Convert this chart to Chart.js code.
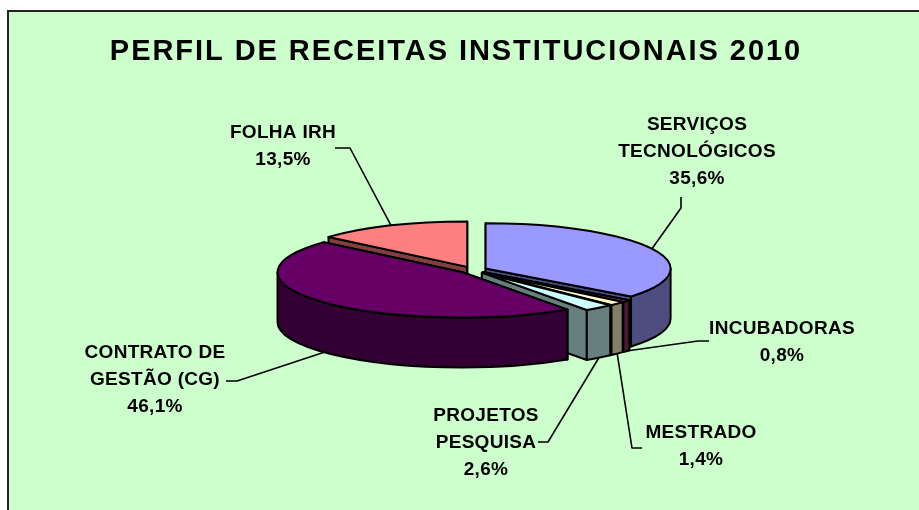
<!DOCTYPE html>
<html><head><meta charset="utf-8">
<style>html,body{margin:0;padding:0;background:#fff}#c{display:block}</style>
<script src="https://cdn.jsdelivr.net/npm/chart.js@4"></script>
</head><body><div style="width:919px;height:510px"><canvas id="c" width="919" height="510"></canvas></div>
<script>
const titleText = 'PERFIL DE RECEITAS INSTITUCIONAIS 2010';
const categories = ['SERVIÇOS TECNOLÓGICOS','INCUBADORAS','MESTRADO','PROJETOS PESQUISA','CONTRATO DE GESTÃO (CG)','FOLHA IRH'];
const values = [35.6,0.8,1.4,2.6,46.1,13.5];
const percentLabels = ['35,6%','0,8%','1,4%','2,6%','46,1%','13,5%'];
const labelLines = [['SERVIÇOS','TECNOLÓGICOS'],['INCUBADORAS'],['MESTRADO'],['PROJETOS','PESQUISA'],['CONTRATO DE','GESTÃO (CG)'],['FOLHA IRH']];
const topColors = ['#9999FF','#993366','#FFFFCC','#CCFFFF','#660066','#FF8080'];
const wallColors = ['#4D4D80','#4D1A33','#808066','#668080','#330033','#804040'];

// layout of the label blocks and leader lines (centre x, first baseline-middle y, elbow, end)
const labelBoxes = [
 {x:697,y:125,elbow:[681,208],end:[681,197],wall:false},
 {x:782,y:329,elbow:[698,341],end:[709,341],wall:true},
 {x:701,y:433,elbow:[632,448],end:[642,448],wall:true},
 {x:486,y:416,elbow:[548,442],end:[538,442],wall:true},
 {x:155,y:353,elbow:[237,381],end:[226,381],wall:true},
 {x:283,y:133,elbow:[350,148],end:[335,148],wall:false}
];

const pie3d = {
 id:'pie3d',
 beforeDraw(chart,args,o){
  const c=chart.ctx; c.save();
  c.fillStyle='#fff'; c.fillRect(0,0,chart.width,chart.height);
  c.fillStyle='#CCFFCC';
  c.fillRect(o.frame.x,o.frame.y,chart.width-o.frame.x,chart.height-o.frame.y);
  c.fillStyle='#222';
  c.fillRect(o.frame.x,o.frame.y,chart.width-o.frame.x,2);
  c.fillRect(o.frame.x,o.frame.y,2,chart.height-o.frame.y);
  c.restore();
  c.letterSpacing=o.titleSpacing;
 },
 afterDraw(chart){ chart.ctx.letterSpacing='0px'; },
 beforeDatasetDraw(chart,args,o){
  const c=chart.ctx, meta=args.meta, arcs=meta.data;
  const place=(a)=>{
    const mid=(a.startAngle+a.endAngle)/2;
    return {x:o.cx+Math.cos(mid)*o.explode,y:o.cy+Math.sin(mid)*o.explode*o.k};
  };
  const pt=(p,R,ang,dy=0)=>[p.x+R*Math.cos(ang),p.y+R*o.k*Math.sin(ang)+dy];
  c.save(); c.lineWidth=o.line; c.strokeStyle='#000'; c.lineJoin='round';
  // back-to-front painter's order
  o.order.forEach(i=>{
    const a=arcs[i], p=place(a), R=a.outerRadius, s=a.startAngle, e=a.endAngle;
    // cut faces
    [s,e].forEach(ang=>{
      const q=pt(p,R,ang);
      c.beginPath(); c.moveTo(p.x,p.y); c.lineTo(q[0],q[1]); c.lineTo(q[0],q[1]+o.depth); c.lineTo(p.x,p.y+o.depth); c.closePath();
      c.fillStyle=wallColors[i]; c.fill(); c.stroke();
    });
    // outer wall
    const lo=Math.max(s,0), hi=Math.min(e,Math.PI);
    if(lo<hi){
      c.beginPath();
      c.ellipse(p.x,p.y,R,R*o.k,0,lo,hi);
      c.ellipse(p.x,p.y+o.depth,R,R*o.k,0,hi,lo,true);
      c.closePath();
      c.fillStyle=wallColors[i]; c.fill(); c.stroke();
    }
    // top face: the library's own arc, flattened
    c.save();
    c.translate(p.x,p.y); c.scale(1,o.k); c.translate(-a.x,-a.y);
    a.draw(c);
    c.restore();
    c.beginPath(); c.moveTo(p.x,p.y);
    c.ellipse(p.x,p.y,R,R*o.k,0,s,e);
    c.closePath(); c.stroke();
  });
  // leaders and labels
  c.lineWidth=o.leader; c.lineCap='butt';
  labelBoxes.forEach((b,i)=>{
    const a=arcs[i], p=place(a), mid=(a.startAngle+a.endAngle)/2;
    const q=pt(p,a.outerRadius,mid,b.wall?o.depth:0);
    c.beginPath(); c.moveTo(q[0],q[1]); c.lineTo(b.elbow[0],b.elbow[1]); c.lineTo(b.end[0],b.end[1]); c.stroke();
  });
  c.fillStyle='#000'; c.textAlign='center'; c.textBaseline='middle';
  c.font=o.labelFont; c.letterSpacing=o.labelSpacing;
  labelBoxes.forEach((b,i)=>{
    const lines=labelLines[i].concat(percentLabels[i]);
    lines.forEach((t,j)=>c.fillText(t,b.x,b.y+j*o.lineH));
  });
  c.letterSpacing='0px';
  c.restore();
  return false;
 }
};

new Chart(document.getElementById('c'),{
 type:'pie',
 data:{labels:categories,datasets:[{data:values,backgroundColor:topColors,borderWidth:0,radius:185}]},
 plugins:[pie3d],
 options:{
  responsive:false,animation:false,
  layout:{padding:{left:0,right:7,top:35,bottom:0}},
  plugins:{
   legend:{display:false},tooltip:{enabled:false},
   title:{display:true,text:titleText,color:'#000',font:{family:'"Liberation Sans",Arial,sans-serif',size:29,weight:'bold'},padding:0},
   pie3d:{frame:{x:7,y:10},cx:473,cy:270,k:0.245,explode:14,depth:50,line:2,leader:1.6,
     order:[5,0,1,2,3,4],labelFont:'bold 19px "Liberation Sans",Arial,sans-serif',labelSpacing:'0.3px',lineH:27,titleSpacing:'1.95px'}
  }
 }
});
</script></body></html>
